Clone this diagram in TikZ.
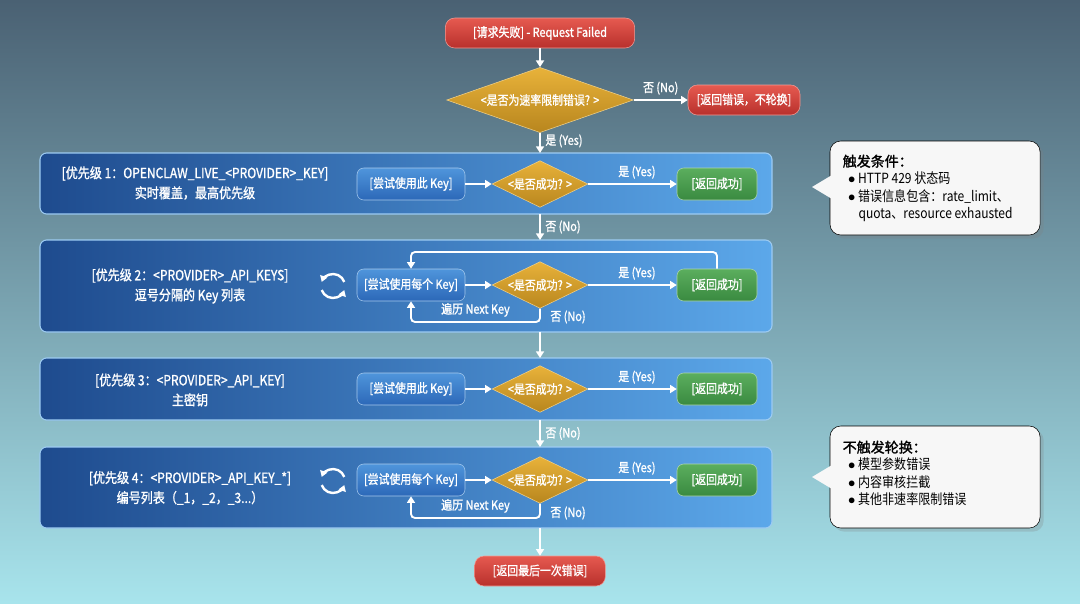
\documentclass[tikz,border=0pt]{standalone}
\usepackage{fontspec}
\setmainfont{Noto Sans CJK SC}[FakeStretch=0.86]
\newfontfamily\bfam{Noto Sans CJK SC}[FakeStretch=0.86,FakeBold=1.2]
\newfontfamily\hfam{Noto Sans CJK SC}[FakeBold=1.5]
\usetikzlibrary{shapes.geometric,arrows.meta,shadows}
\definecolor{bgtop}{HTML}{4A6173}
\definecolor{bgbot}{HTML}{A8E4EC}
\definecolor{pl}{HTML}{1E4B8E}
\definecolor{pr}{HTML}{5CA8EA}
\definecolor{redt}{HTML}{E65A50}
\definecolor{redb}{HTML}{B8302C}
\definecolor{gt}{HTML}{E8B23A}
\definecolor{gb}{HTML}{B8861E}
\definecolor{grt}{HTML}{5BAE5E}
\definecolor{grb}{HTML}{3A8A40}
\definecolor{kt}{HTML}{4F95DB}
\definecolor{kb}{HTML}{2C68B8}
\newcommand{\blt}{\ \ $\bullet$\ }
\tikzset{
 x=0.75pt,y=-0.75pt,
 every node/.style={text=white,font=\bfam\fontsize{9.5}{11}\selectfont},
 panel/.style={draw=pr!60!white,line width=0.8pt,rounded corners=5pt,left color=pl,right color=pr},
 rednode/.style={draw=redt!60!white,rounded corners=7pt,top color=redt,bottom color=redb,minimum height=22.5pt,inner sep=2pt},
 dia/.style={diamond,draw=gt!60!white,top color=gt,bottom color=gb,aspect=2.3,inner sep=0.5pt},
 keyn/.style={draw=kt!50!white,rounded corners=5pt,top color=kt,bottom color=kb,minimum width=81pt,minimum height=24pt,inner sep=1pt},
 okn/.style={draw=grt!50!white,rounded corners=5pt,top color=grt,bottom color=grb,minimum width=60pt,minimum height=24pt},
 arr/.style={white,line width=1.4pt,-{Triangle[length=5pt,width=6pt]}},
 lbl/.style={font=\bfam\fontsize{9.5}{11}\selectfont},
 ptitle/.style={align=center,font=\bfam\fontsize{10.5}{15}\selectfont},
 call/.style={fill=white!94!gray,rounded corners=8pt,drop shadow={opacity=0.25}},
 ctext/.style={text=black,align=left,font=\fontsize{10.5}{13}\selectfont,anchor=north west},
}
\begin{document}
\begin{tikzpicture}
\shade[top color=bgtop,bottom color=bgbot] (0,0) rectangle (1080,603);
\useasboundingbox (0,0) rectangle (1080,603);

\node[rednode,minimum width=142pt] (start) at (540,33) {[请求失败] - Request Failed};
\node[dia,minimum width=140pt,minimum height=37pt] (rl) at (540,100) {<是否为速率限制错误? >};
\node[rednode,minimum width=84pt] (noerr) at (744,100) {[返回错误，不轮换]};
\draw[arr] (start) -- (rl);
\draw[arr] (rl) -- node[above,lbl]{否 (No)} (noerr);

\draw[panel] (40,153) rectangle (772,214); \coordinate (p1t) at (540,153); \coordinate (p1b) at (540,214);
\draw[panel] (40,240) rectangle (772,332); \coordinate (p2t) at (540,240); \coordinate (p2b) at (540,332);
\draw[panel] (40,358) rectangle (772,420); \coordinate (p3t) at (540,358); \coordinate (p3b) at (540,420);
\draw[panel] (40,447) rectangle (772,528); \coordinate (p4t) at (540,447); \coordinate (p4b) at (540,528);

\draw[arr] (rl) -- node[right,lbl,pos=0.4]{是 (Yes)} (p1t);
\draw[arr] (p1b) -- node[right,lbl]{否 (No)} (p2t);
\draw[arr] (p2b) -- (p3t);
\draw[arr] (p3b) -- node[right,lbl]{否 (No)} (p4t);

\node[ptitle] (t1) at (195,183) {[优先级 1：OPENCLAW\_LIVE\_<PROVIDER>\_KEY]\\实时覆盖，最高优先级};
\node[ptitle] (t2) at (190,286) {[优先级 2：<PROVIDER>\_API\_KEYS]\\逗号分隔的 Key 列表};
\node[ptitle] (t3) at (190,390) {[优先级 3：<PROVIDER>\_API\_KEY]\\主密钥};
\node[ptitle] (t4) at (190,488) {[优先级 4：<PROVIDER>\_API\_KEY\_*]\\编号列表（\_1，\_2，\_3...）};

\foreach \y/\txt/\n in {184/尝试使用此 Key/1,285/尝试使用每个 Key/2,389/尝试使用此 Key/3,480/尝试使用每个 Key/4}{
  \node[keyn] (k\n) at (411,\y) {[\txt]};
  \node[dia,minimum width=72pt,minimum height=35pt] (d\n) at (540,\y) {<是否成功? >};
  \node[okn] (s\n) at (717,\y) {[返回成功]};
  \draw[arr] (k\n) -- (d\n);
  \draw[arr] (d\n) -- node[above,lbl,pos=0.55]{是 (Yes)} (s\n);
}
\draw[arr,rounded corners=3pt] (s2.north) |- (411,252) -- (k2.north);
\draw[arr,rounded corners=3pt] (d2.south) |- (411,322) node[pos=0.75,above,lbl]{遍历 Next Key} -- (k2.south);
\node[lbl] (n2) at (568,317) {否 (No)};
\draw[arr,rounded corners=3pt] (d4.south) |- (411,518) node[pos=0.75,above,lbl]{遍历 Next Key} -- (k4.south);
\node[lbl] (n4) at (568,513) {否 (No)};

\foreach \y/\n in {286/2,481/4}{
  \coordinate (c\n) at (333,\y);
  \draw[white,line width=1.8pt,-{Triangle[length=4.5pt,width=5.5pt]}] (c\n) ++(160:12) arc(160:20:12);
  \draw[white,line width=1.8pt,-{Triangle[length=4.5pt,width=5.5pt]}] (c\n) ++(-20:12) arc(-20:-160:12);
}

\node[rednode,minimum width=98pt] (fin) at (540,571) {[返回最后一次错误]};
\draw[arr] (p4b) -- (fin);

\draw[call] (830,141) rectangle (1040,235);
\fill[white!94!gray] (832,175) -- (812,187) -- (832,199) -- cycle;
\node[ctext] (ct1) at (838,150) {{\hfam 触发条件：}\\
\blt HTTP 429 状态码\\
\blt 错误信息包含：rate\_limit、\\
\ \ \ \ \ \,quota、resource exhausted};
\draw[call] (830,426) rectangle (1040,528);
\fill[white!94!gray] (832,465) -- (812,477) -- (832,489) -- cycle;
\node[ctext] (ct2) at (838,436) {{\hfam 不触发轮换：}\\
\blt 模型参数错误\\
\blt 内容审核拦截\\
\blt 其他非速率限制错误};
\end{tikzpicture}
\end{document}
